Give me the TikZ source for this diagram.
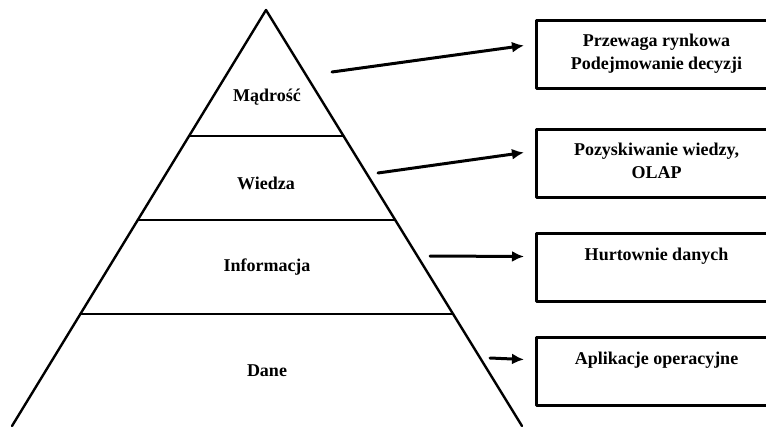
\documentclass[tikz,border=0pt]{standalone}
\usepackage{fontspec}
\setmainfont{Liberation Serif}
\usetikzlibrary{arrows.meta,positioning,calc}

\begin{document}
\begin{tikzpicture}
    [line cap=round,line join=round,x=1pt,y=-1pt,
     level/.style={font=\bfseries\fontsize{18}{23}\selectfont},
     usebox/.style={draw,line width=3pt,minimum width=240pt,minimum height=68pt,inner sep=0pt,anchor=north west},
     boxtext/.style={font=\bfseries\fontsize{18}{23}\selectfont,align=center,inner sep=0pt},
     arr/.style={-{Latex[length=12pt,width=11pt]},line width=3pt}]
%frame
\useasboundingbox (0,0) rectangle (766,426);
\clip (0,0) rectangle (766,426);
%pyramid
\coordinate (apex) at (266,10);
\coordinate (bl) at (12,426);
\coordinate (br) at (522,426);
\draw[line width=2.4pt] (bl) -- (apex) -- (br);
\draw[line width=2.4pt] ($(apex)!0.303!(bl)$) -- ($(apex)!0.303!(br)$);
\draw[line width=2.4pt] ($(apex)!0.505!(bl)$) -- ($(apex)!0.505!(br)$);
\draw[line width=2.4pt] ($(apex)!0.731!(bl)$) -- ($(apex)!0.731!(br)$);
%levels
\node[level] (madrosc) at (267,97) {Mądrość};
\node[level] (wiedza) at (266,183) {Wiedza};
\node[level] (informacja) at (267,267) {Informacja};
\node[level] (dane) at (267,371) {Dane};
%boxes on the right
\node[usebox] (b1) at (535,19) {};
\node[usebox] (b2) at (535,128) {};
\node[usebox] (b3) at (535,232) {};
\node[usebox] (b4) at (535,336) {};
\node[boxtext,below=15pt of b1.north] (t1) {Przewaga rynkowa\\Podejmowanie decyzji};
\node[boxtext,below=15pt of b2.north] (t2) {Pozyskiwanie wiedzy,\\OLAP};
\node[boxtext,below=16pt of b3.north] (t3) {Hurtownie danych};
\node[boxtext,below=16pt of b4.north] (t4) {Aplikacje operacyjne};
%arrows
\coordinate (a1) at (332,72);
\coordinate (a2) at (378,173);
\coordinate (a3) at (430,256);
\coordinate (a4) at (490,358);
\draw[arr] (a1) -- ([xshift=-11pt,yshift=9pt]b1.west);
\draw[arr] (a2) -- ([xshift=-11pt,yshift=11pt]b2.west);
\draw[arr] (a3) -- ([xshift=-11pt,yshift=11pt]b3.west);
\draw[arr] (a4) -- ([xshift=-11pt,yshift=12pt]b4.west);
\end{tikzpicture}
\end{document}
